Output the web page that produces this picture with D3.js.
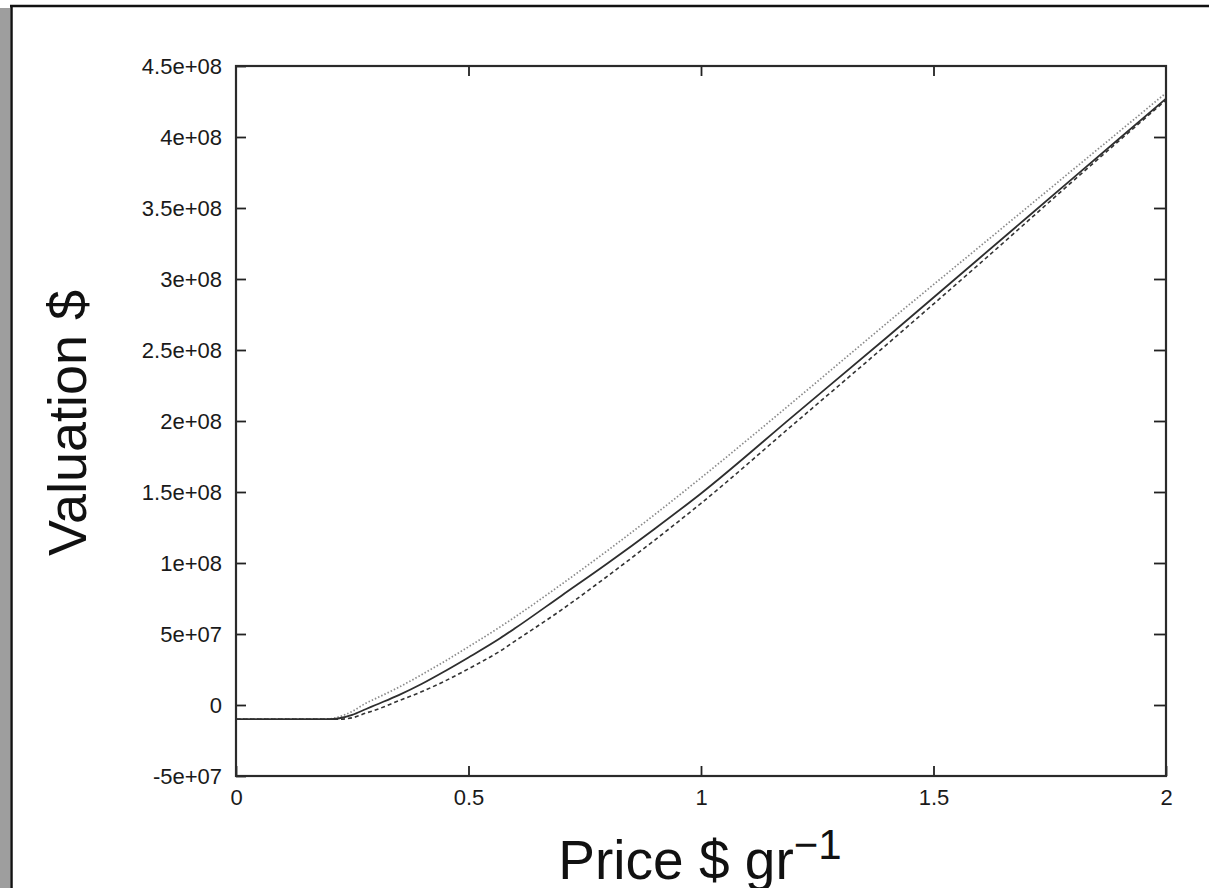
<!DOCTYPE html>
<html>
<head>
<meta charset="utf-8">
<script src="https://cdn.jsdelivr.net/npm/d3@7"></script>
<style>
  html, body { margin: 0; padding: 0; background: #fff; }
  svg { display: block; }
</style>
</head>
<body>
<svg id="chart" width="1209" height="888"></svg>
<script>
// ---- data (valuation in units of 1e8 $) ----
const price = [0, 0.1, 0.2, 0.22, 0.25, 0.28, 0.3, 0.35, 0.4, 0.45, 0.5, 0.568, 0.6, 0.7, 0.8, 0.9, 1.0, 1.2, 1.4, 1.6, 1.8, 2.0];
const solidValues  = [-0.10, -0.10, -0.10, -0.095, -0.07, -0.028, 0.0, 0.07, 0.15, 0.24, 0.335, 0.47, 0.54, 0.77, 1.00, 1.24, 1.49, 2.04, 2.59, 3.15, 3.71, 4.27];
const dottedValues = [-0.10, -0.10, -0.098, -0.085, -0.045, 0.014, 0.045, 0.125, 0.215, 0.31, 0.41, 0.55, 0.62, 0.85, 1.09, 1.34, 1.60, 2.14, 2.69, 3.23, 3.77, 4.31];
const dashedValues = [-0.10, -0.10, -0.10, -0.10, -0.09, -0.056, -0.035, 0.03, 0.095, 0.17, 0.255, 0.38, 0.45, 0.67, 0.91, 1.16, 1.42, 1.98, 2.54, 3.11, 3.69, 4.26];
const xTicks = [0, 0.5, 1, 1.5, 2];
const xTickLabels = ["0", "0.5", "1", "1.5", "2"];
const yTicks = [-0.5, 0, 0.5, 1, 1.5, 2, 2.5, 3, 3.5, 4, 4.5];
const yTickLabels = ["-5e+07", "0", "5e+07", "1e+08", "1.5e+08", "2e+08", "2.5e+08", "3e+08", "3.5e+08", "4e+08", "4.5e+08"];

(function () {
const svg = d3.select("#chart");
const W = 1209, H = 888;
const pL = 236, pR = 1166, pT = 66, pB = 776;

// outer page frame
svg.append("rect").attr("x", 0).attr("y", 8).attr("width", 10).attr("height", H - 8).attr("fill", "#9e9e9e");
svg.append("line").attr("x1", 11.5).attr("x2", 11.5).attr("y1", 5).attr("y2", H).attr("stroke", "#111").attr("stroke-width", 2.5);
svg.append("line").attr("x1", 10).attr("x2", W).attr("y1", 6).attr("y2", 6).attr("stroke", "#111").attr("stroke-width", 2.5);

const x = d3.scaleLinear().domain([0, 2]).range([pL, pR]);
const y = d3.scaleLinear().domain([-0.5, 4.5]).range([pB, pT]);

const font = "'Liberation Sans', Arial, sans-serif";

function styleAxis(g) {
  g.select(".domain").remove();
  g.selectAll(".tick line").attr("stroke", "#222").attr("stroke-width", 1.8);
  g.selectAll(".tick text").attr("font-family", font).attr("font-size", 22).attr("fill", "#1a1a1a");
}

svg.append("g").attr("transform", `translate(${pL},0)`)
  .call(d3.axisLeft(y).tickValues(yTicks).tickSize(-10).tickPadding(14).tickFormat((d, i) => yTickLabels[i]))
  .call(styleAxis);
svg.append("g").attr("transform", `translate(${pR},0)`)
  .call(d3.axisRight(y).tickValues(yTicks.slice(1, -1)).tickSize(-12).tickFormat(""))
  .call(styleAxis);
svg.append("g").attr("transform", `translate(0,${pB})`)
  .call(d3.axisBottom(x).tickValues(xTicks).tickSize(-10).tickPadding(13).tickFormat((d, i) => xTickLabels[i]))
  .call(styleAxis);
svg.append("g").attr("transform", `translate(0,${pT})`)
  .call(d3.axisTop(x).tickValues(xTicks.slice(1, -1)).tickSize(-10).tickFormat(""))
  .call(styleAxis);

// series
svg.append("clipPath").attr("id", "clip").append("rect")
  .attr("x", pL).attr("y", pT).attr("width", pR - pL).attr("height", pB - pT);

const line = d3.line().x(d => x(d[0])).y(d => y(d[1])).curve(d3.curveMonotoneX);
const series = [
  { vals: dottedValues, stroke: "#8a8a8a", width: 1.7, dash: "1.5,2" },
  { vals: dashedValues, stroke: "#333", width: 1.6, dash: "4,3" },
  { vals: solidValues,  stroke: "#2e2e2e", width: 1.8, dash: null }
];
const pg = svg.append("g").attr("clip-path", "url(#clip)");
series.forEach(s => {
  pg.append("path")
    .datum(price.map((p, i) => [p, s.vals[i]]))
    .attr("d", line)
    .attr("fill", "none")
    .attr("stroke", s.stroke)
    .attr("stroke-width", s.width)
    .attr("stroke-dasharray", s.dash);
});

// plot frame
svg.append("rect").attr("x", pL).attr("y", pT).attr("width", pR - pL).attr("height", pB - pT)
  .attr("fill", "none").attr("stroke", "#2a2a2a").attr("stroke-width", 2.2);

// axis titles
svg.append("text")
  .attr("transform", `translate(86,423) rotate(-90)`)
  .attr("text-anchor", "middle")
  .attr("font-family", font).attr("font-size", 54).attr("fill", "#111")
  .text("Valuation $");

const xt = svg.append("text")
  .attr("x", 700).attr("y", 879)
  .attr("text-anchor", "middle")
  .attr("font-family", font).attr("font-size", 55).attr("fill", "#111");
xt.append("tspan").text("Price $ gr");
xt.append("tspan").attr("dy", -20).attr("font-size", 42).text("\u22121");
})();
</script>
</body>
</html>
